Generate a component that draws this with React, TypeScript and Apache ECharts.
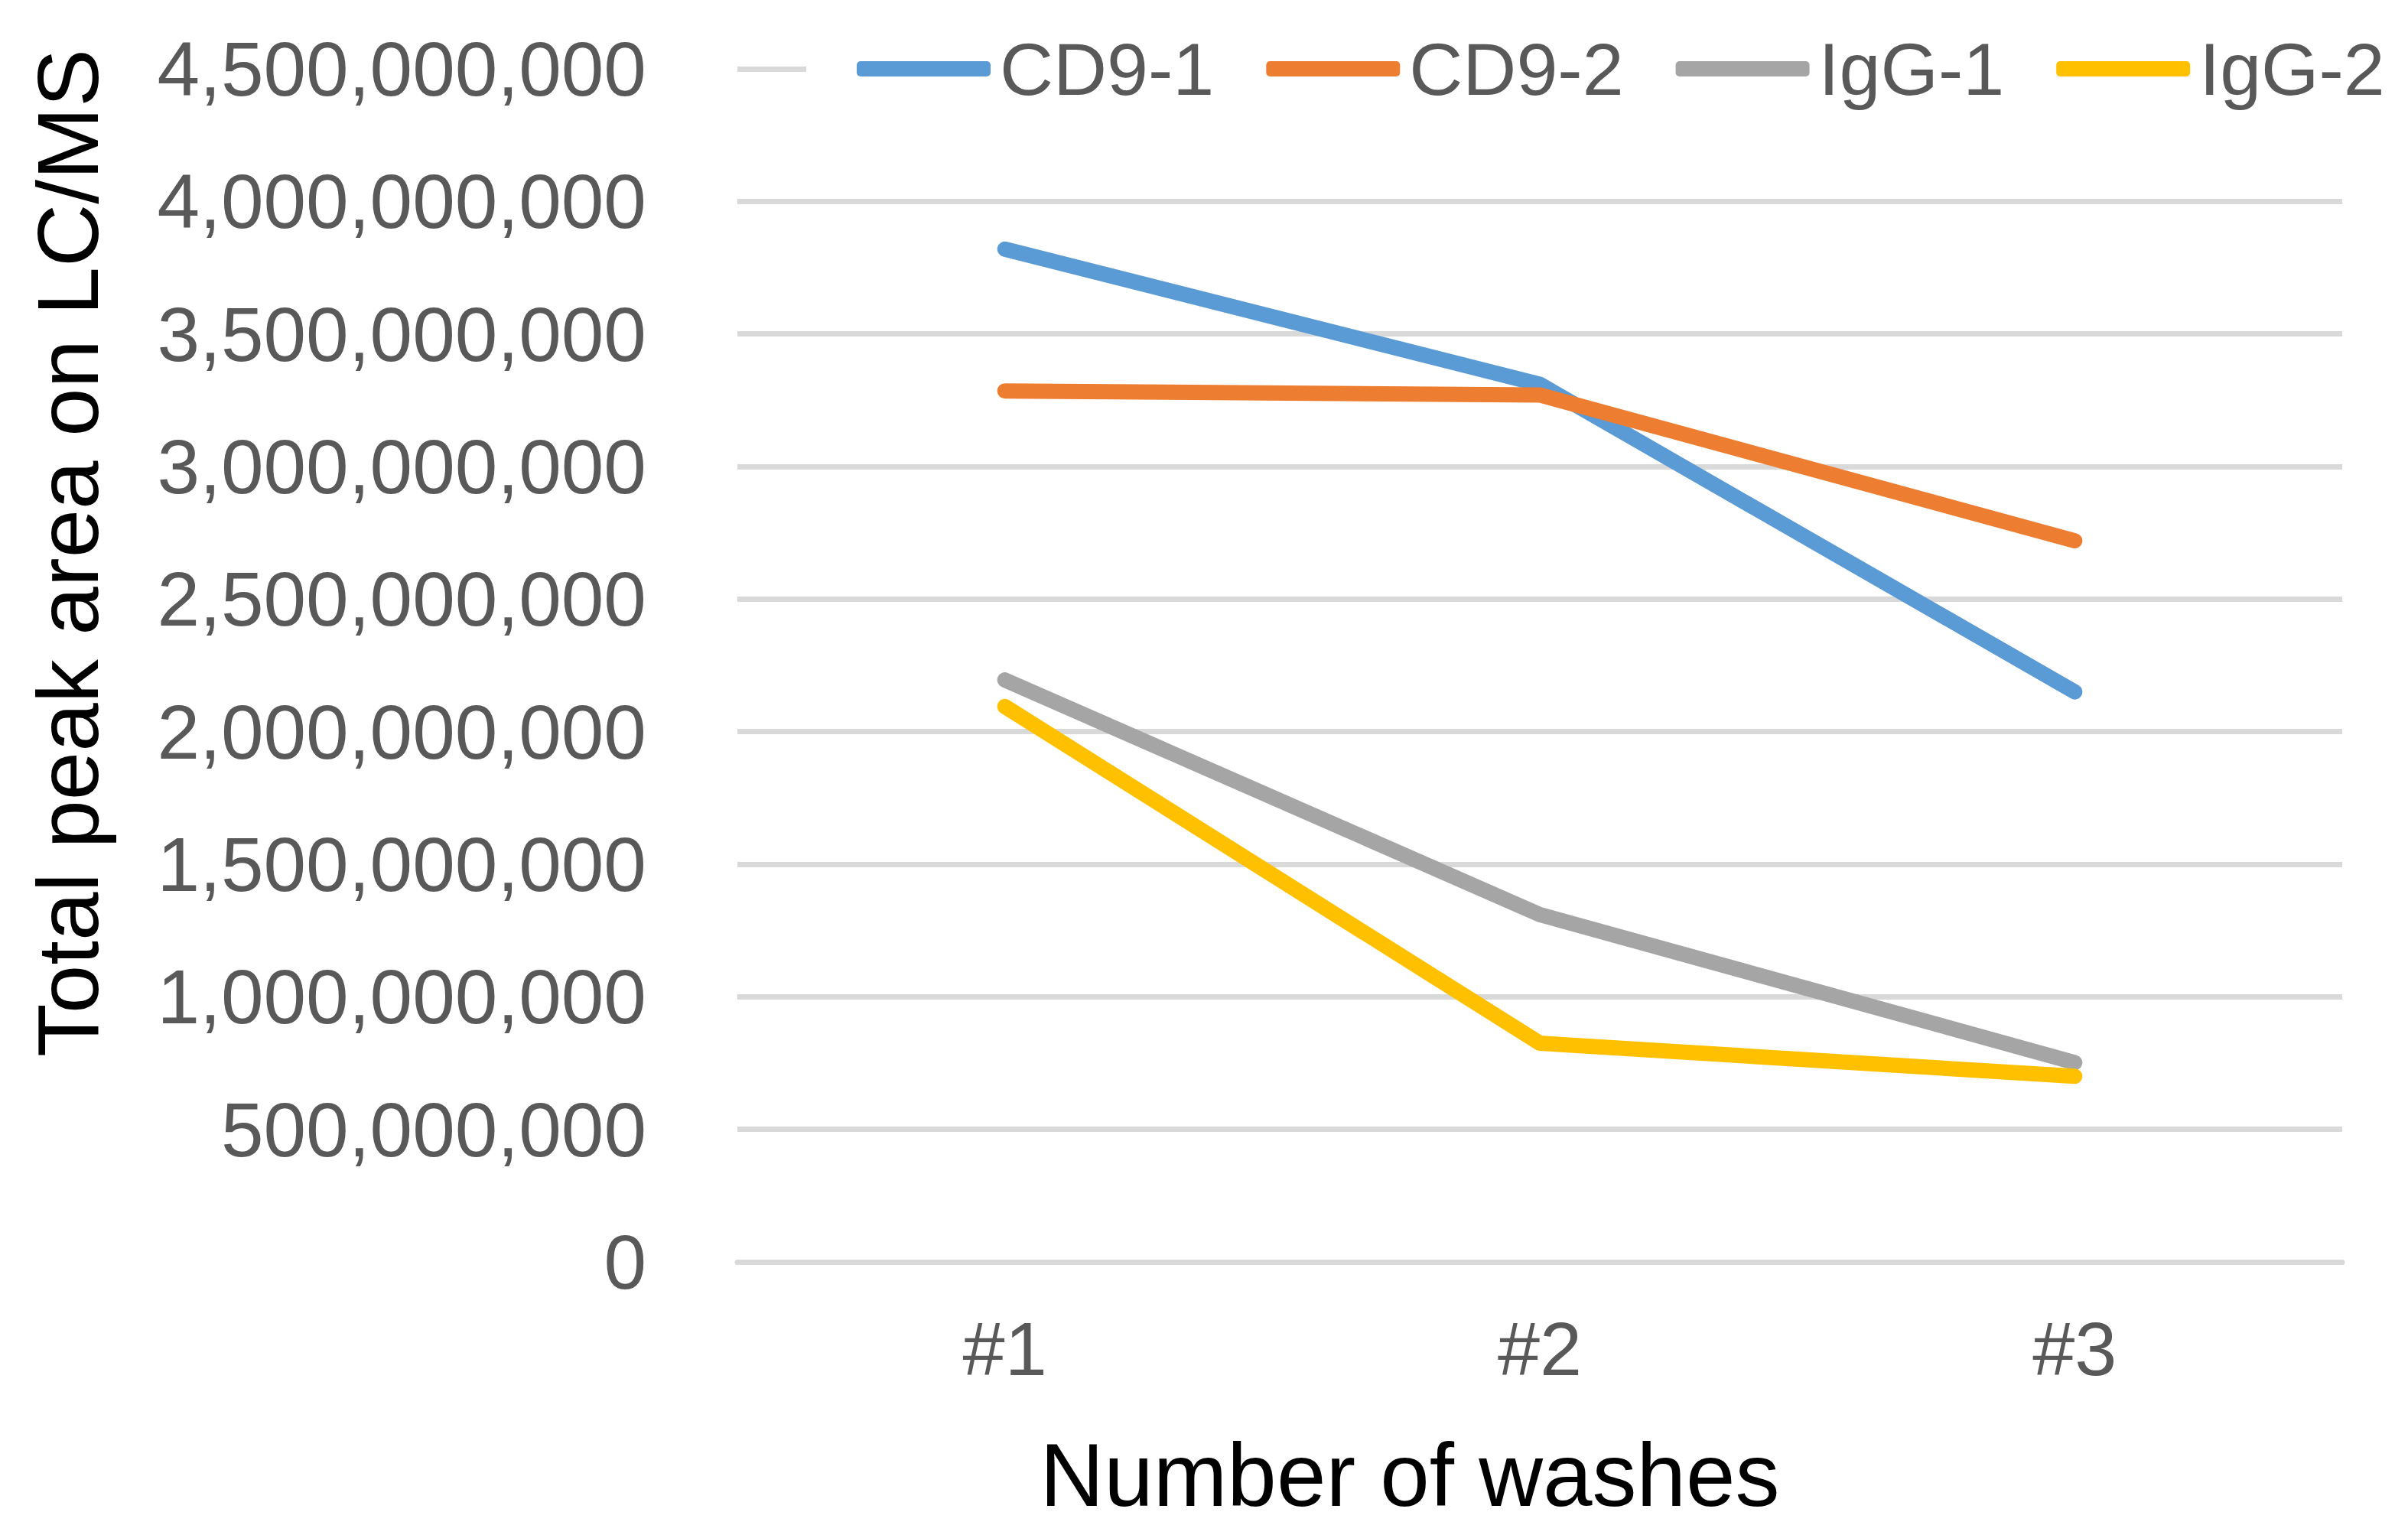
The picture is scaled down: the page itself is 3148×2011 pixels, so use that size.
import React, { useEffect, useRef } from "react";
import * as echarts from "echarts";

const categories = ["#1", "#2", "#3"];
const seriesNames = ["CD9-1", "CD9-2", "IgG-1", "IgG-2"];
const cd91 = [3820000000, 3310000000, 2150000000];
const cd92 = [3285000000, 3270000000, 2720000000];
const igg1 = [2195000000, 1310000000, 752000000];
const igg2 = [2095000000, 825000000, 700000000];
const colors = ["#5B9BD5", "#ED7D31", "#A5A5A5", "#FFC000"];
const yTitle = "Total peak area on LC/MS";
const xTitle = "Number of washes";

export default function App() {
  const ref = useRef<HTMLDivElement>(null);
  useEffect(() => {
    if (!ref.current) return;
    const chart = echarts.init(ref.current, undefined, { renderer: "svg" });
    const font = "'Liberation Sans', Arial, sans-serif";
    const data = [cd91, cd92, igg1, igg2];
    chart.setOption({
      animation: false,
      backgroundColor: "#ffffff",
      grid: { left: 964, right: 86, top: 90, bottom: 361, containLabel: false },
      legend: {
        left: 1054,
        top: 41,
        padding: [0, 10, 0, 66],
        backgroundColor: "#ffffff",
        icon: "roundRect",
        itemWidth: 175,
        itemHeight: 20,
        itemGap: 68,
        textStyle: {
          fontFamily: font,
          fontSize: 97,
          lineHeight: 98,
          color: "#595959",
          padding: [0, 0, 0, 7],
        },
        data: seriesNames,
      },
      xAxis: {
        type: "category",
        data: categories,
        boundaryGap: true,
        axisLine: { show: true, lineStyle: { color: "#D9D9D9", width: 7 } },
        axisTick: { show: false },
        axisLabel: { fontFamily: font, fontSize: 99, color: "#595959", margin: 64 },
        splitLine: { show: false },
      },
      yAxis: {
        type: "value",
        min: 0,
        max: 4500000000,
        interval: 500000000,
        axisLine: { show: false },
        axisTick: { show: false },
        axisLabel: {
          fontFamily: font,
          fontSize: 100,
          color: "#595959",
          margin: 119,
          formatter: (v: number) => v.toLocaleString("en-US"),
        },
        splitLine: { show: true, lineStyle: { color: "#D9D9D9", width: 7 } },
      },
      graphic: [
        {
          type: "text",
          x: 88,
          y: 723,
          rotation: Math.PI / 2,
          style: {
            text: yTitle,
            fontFamily: font,
            fontSize: 114,
            fill: "#000000",
            textAlign: "center",
            textVerticalAlign: "middle",
          },
        },
        {
          type: "text",
          x: 1843,
          y: 1929,
          style: {
            text: xTitle,
            fontFamily: font,
            fontSize: 116,
            fill: "#000000",
            textAlign: "center",
            textVerticalAlign: "middle",
          },
        },
      ],
      series: seriesNames.map((name, i) => ({
        name,
        type: "line",
        data: data[i],
        showSymbol: false,
        symbol: "none",
        color: colors[i],
        lineStyle: { width: 20, color: colors[i], cap: "round", join: "round" },
      })),
    });
    return () => chart.dispose();
  }, []);
  return (
    <div
      ref={ref}
      style={{ position: "fixed", left: 0, top: 0, width: 3148, height: 2011, background: "#fff" }}
    />
  );
}
